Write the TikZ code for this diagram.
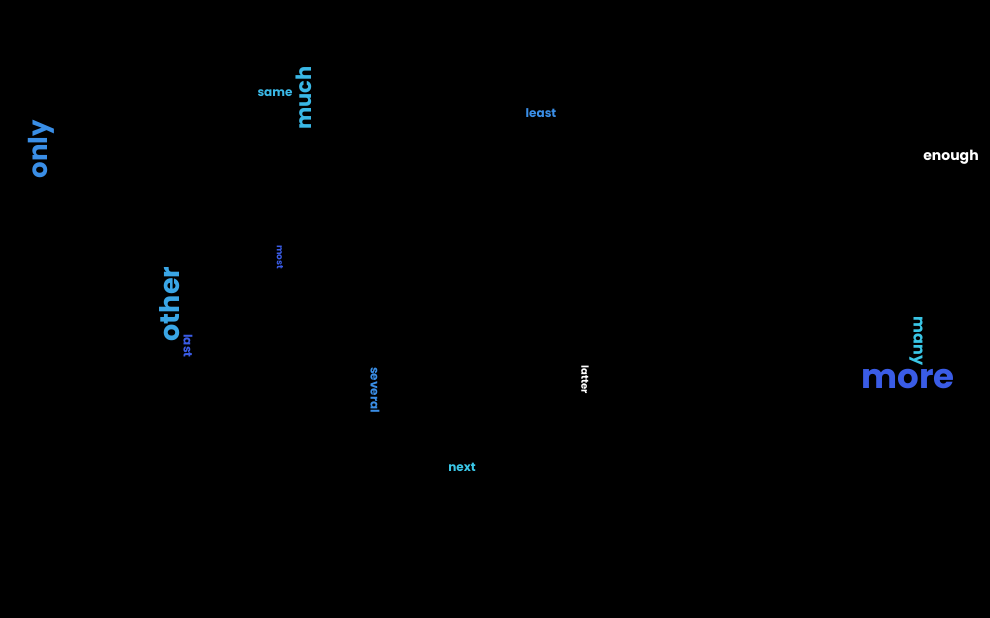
\documentclass[tikz,border=0pt]{standalone}
\usepackage{fontspec}
\setmainfont{Poppins}
\definecolor{cblue}{HTML}{3A8EE6}
\definecolor{csky}{HTML}{3AB8E6}
\definecolor{ccyan}{HTML}{3AC6E6}
\definecolor{croyal}{HTML}{3A5CE6}
\definecolor{clight}{HTML}{3AA6E6}

\begin{document}
\begin{tikzpicture}[x=1pt, y=-1pt,
  word/.style={inner sep=0pt, font=\bfseries\fontsize{#1}{#1}\selectfont},
  up/.style={rotate=90},
  down/.style={rotate=-90}]
\fill[black] (0,0) rectangle (990,618);
\useasboundingbox (0,0) rectangle (990,618);
\node[word=26, up, text=cblue] (only) at (41,149) {only};
\node[word=21, up, text=csky] (much) at (304,98) {much};
\node[word=12, text=csky] (same) at (275,93) {same};
\node[word=12, text=cblue] (least) at (541,113) {least};
\node[word=14, text=white] (enough) at (951,157) {enough};
\node[word=9, down, text=croyal] (most) at (280,257) {most};
\node[word=27, up, text=clight] (other) at (170,304) {other};
\node[word=12, down, text=croyal] (last) at (188,346) {last};
\node[word=12, down, text=cblue] (several) at (375,390) {several};
\node[word=10, down, text=white] (latter) at (585,380) {latter};
\node[word=16, down, text=ccyan] (many) at (916,341) {many};
\node[word=34, text=croyal] (more) at (908,379) {more};
\node[word=12, text=ccyan] (next) at (462,467) {next};
\end{tikzpicture}
\end{document}
